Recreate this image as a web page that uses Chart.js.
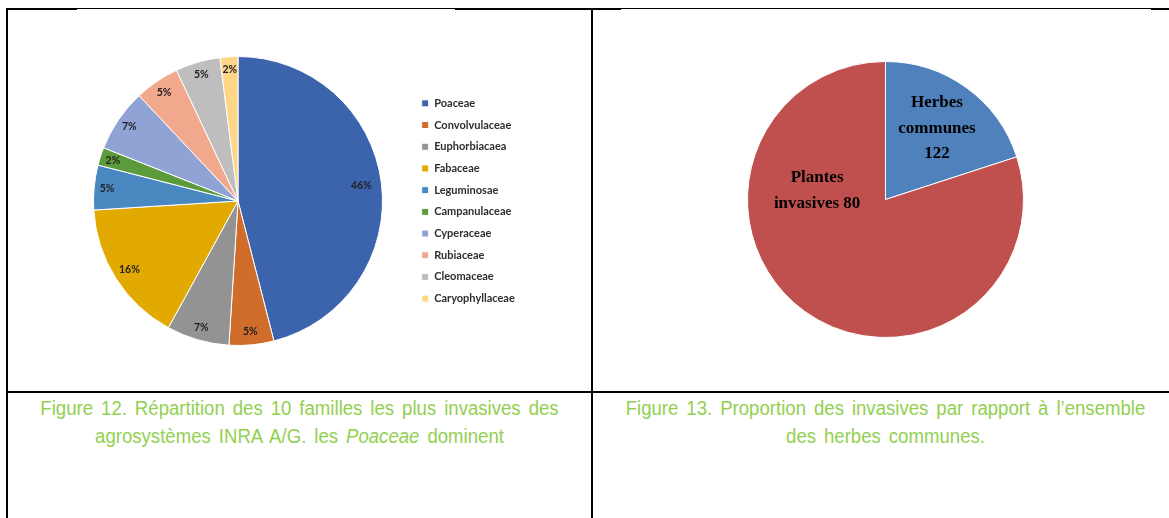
<!DOCTYPE html>
<html>
<head>
<meta charset="utf-8">
<script src="https://cdn.jsdelivr.net/npm/chart.js@4.4.0/dist/chart.umd.min.js"></script>
<style>
  html, body { margin: 0; padding: 0; background: #fff; }
  body { width: 1169px; height: 518px; position: relative; overflow: hidden; }
  .ln { position: absolute; background: #000; }
  .cap {
    position: absolute; top: 394px; text-align: center; color: #92D050;
    font-family: "Liberation Sans Narrow", "Arial Narrow", "Liberation Sans", sans-serif;
    font-size: 20px; line-height: 28px; word-spacing: 3px;
    transform: scaleX(0.93); transform-origin: 50% 0;
  }
  #wrap1 { position: absolute; left: 65px; top: 56px; width: 456px; height: 290px; }
  #wrap2 { position: absolute; left: 747px; top: 61px; width: 277px; height: 277px; }
</style>
</head>
<body>
<!-- table borders -->
<div class="ln" style="left:6px;top:8px;width:1163px;height:1px"></div>
<div class="ln" style="left:6px;top:8px;width:71px;height:2px"></div>
<div class="ln" style="left:455px;top:8px;width:166px;height:2px"></div>
<div class="ln" style="left:1151px;top:8px;width:18px;height:2px"></div>
<div class="ln" style="left:6px;top:8px;width:2px;height:510px"></div>
<div class="ln" style="left:591px;top:8px;width:2px;height:510px"></div>
<div class="ln" style="left:6px;top:391px;width:1163px;height:2px"></div>

<div id="wrap1"><canvas id="famillesChart"></canvas></div>
<div id="wrap2"><canvas id="invasivesChart"></canvas></div>

<div class="cap" style="left:8px;width:583px">Figure 12. Répartition des 10 familles les plus invasives des<br>agrosystèmes INRA A/G. les <i>Poaceae</i> dominent</div>
<div class="cap" style="left:593px;width:585px">Figure 13. Proportion des invasives par rapport à l’ensemble<br>des herbes communes.</div>

<script>
// Figure 12 data
const familles = ['Poaceae', 'Convolvulaceae', 'Euphorbiacaea', 'Fabaceae', 'Leguminosae',
                  'Campanulaceae', 'Cyperaceae', 'Rubiaceae', 'Cleomaceae', 'Caryophyllaceae'];
const partsFamilles = [46, 5, 7, 16, 5, 2, 7, 5, 5, 2];
const couleursFamilles = ['#3B64AD', '#D06D2B', '#939393', '#E2A900', '#4A88C2',
                          '#5B9B3C', '#8FA3D5', '#F2A88C', '#BEBEBE', '#FFD587'];

// Figure 13 data (slice sizes, label text as printed)
const groupes = ['Herbes communes', 'Plantes invasives'];
const partsGroupes = [20, 80];
const effectifsAffiches = ['122', '80'];
const couleursGroupes = ['#4F81BD', '#C0504D'];

// draws text on each slice, from the arc elements' own geometry
const sliceLabels = {
    id: 'sliceLabels',
    afterDatasetsDraw(chart, args, opts) {
        const ctx = chart.ctx;
        const meta = chart.getDatasetMeta(0);
        ctx.save();
        ctx.font = opts.font;
        ctx.fillStyle = opts.color;
        ctx.textAlign = 'center';
        ctx.textBaseline = 'middle';
        meta.data.forEach((arc, i) => {
            const p = arc.getProps(['x', 'y', 'startAngle', 'endAngle', 'outerRadius'], true);
            const place = (opts.places && opts.places[i]) || {};
            const a = place.angle !== undefined ? place.angle : (p.startAngle + p.endAngle) / 2;
            const r = p.outerRadius * (place.r !== undefined ? place.r : opts.r);
            const lines = opts.text(i);
            const cx = p.x + Math.cos(a) * r;
            const cy = p.y + Math.sin(a) * r;
            lines.forEach((t, k) => {
                ctx.fillText(t, cx, cy + (k - (lines.length - 1) / 2) * opts.lineHeight);
            });
        });
        ctx.restore();
    }
};

// Figure 12 - families pie
const ctx1 = document.getElementById('famillesChart').getContext('2d');
const famillesChart = new Chart(ctx1, {
    type: 'pie',
    data: {
        labels: familles,
        datasets: [{
            data: partsFamilles,
            backgroundColor: couleursFamilles,
            borderColor: '#ffffff',
            borderWidth: 1,
            hoverOffset: 0
        }]
    },
    options: {
        responsive: true,
        maintainAspectRatio: false,
        animation: false,
        events: [],
        layout: { padding: 0 },
        plugins: {
            tooltip: { enabled: false },
            legend: {
                position: 'right',
                maxWidth: 110,
                labels: {
                    boxWidth: 7,
                    boxHeight: 7,
                    padding: 10.7,
                    color: '#2e2e2e',
                    font: { family: 'Lato', weight: 'bold', size: 11 }
                }
            },
            sliceLabels: {
                font: 'bold 10.5px Lato',
                color: '#222222',
                r: 0.91,
                lineHeight: 12,
                places: { 0: { r: 0.86 }, 3: { r: 0.89 } },
                text: (i) => [partsFamilles[i] + '%']
            }
        }
    },
    plugins: [sliceLabels]
});

// Figure 13 - invasive vs common
const ctx2 = document.getElementById('invasivesChart').getContext('2d');
const invasivesChart = new Chart(ctx2, {
    type: 'pie',
    data: {
        labels: groupes,
        datasets: [{
            data: partsGroupes,
            backgroundColor: couleursGroupes,
            borderColor: '#ffffff',
            borderWidth: 1,
            hoverOffset: 0
        }]
    },
    options: {
        responsive: true,
        maintainAspectRatio: false,
        animation: false,
        events: [],
        plugins: {
            tooltip: { enabled: false },
            legend: { display: false },
            sliceLabels: {
                font: 'bold 17px "Liberation Serif"',
                color: '#000000',
                r: 0.635,
                lineHeight: 25.5,
                places: { 1: { angle: Math.PI * 187.5 / 180, r: 0.5 } },
                text: (i) => i === 0
                    ? ['Herbes', 'communes', effectifsAffiches[0]]
                    : ['Plantes', 'invasives ' + effectifsAffiches[1]]
            }
        }
    },
    plugins: [sliceLabels]
});
</script>
</body>
</html>
